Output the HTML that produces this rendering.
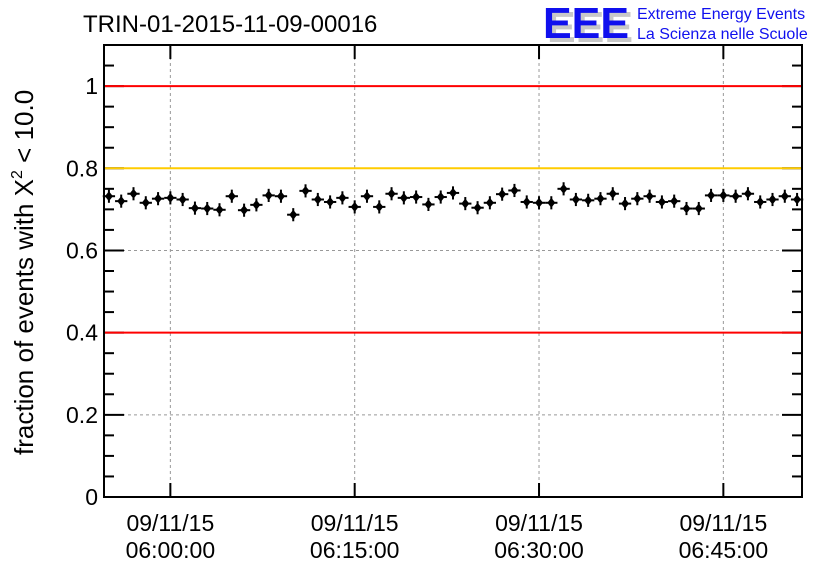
<!DOCTYPE html>
<html><head><meta charset="utf-8"><style>
body{margin:0;background:#fff;width:836px;height:572px;overflow:hidden;font-family:"Liberation Sans",sans-serif}
svg{display:block}
</style></head><body>
<svg id="chart" width="836" height="572" xmlns="http://www.w3.org/2000/svg" font-family="Liberation Sans, sans-serif">
<text x="83" y="32" font-size="24">TRIN-01-2015-11-09-00016</text>
<g>
<text x="547" y="42" font-size="44" font-weight="bold" fill="#c8c8c8" textLength="86" lengthAdjust="spacingAndGlyphs">EEE</text>
<text x="543" y="38" font-size="44" font-weight="bold" fill="#1010ee" textLength="86" lengthAdjust="spacingAndGlyphs">EEE</text>
<text x="637" y="19" font-size="16" fill="#1010ee">Extreme Energy Events</text>
<text x="637" y="39" font-size="16" fill="#1010ee">La Scienza nelle Scuole</text>
</g>
<g id="grid"></g>
<g id="points"></g>
<g id="axes"></g>
<g id="lines"></g>
<text transform="translate(33,455) rotate(-90)" font-size="26">fraction of events with Χ<tspan dy="-11" font-size="16">2</tspan><tspan dy="11"> &lt; 10.0</tspan></text>
</svg>
<script>
const values=[0.732,0.720,0.738,0.716,0.726,0.728,0.724,0.703,0.702,0.699,0.732,0.698,0.711,0.734,0.732,0.687,0.745,0.724,0.718,0.728,0.706,0.732,0.706,0.738,0.728,0.730,0.712,0.730,0.740,
0.714,0.704,0.716,0.737,0.746,0.718,0.716,0.716,0.750,0.724,0.722,0.726,0.738,0.714,0.726,0.732,0.718,0.720,0.702,0.702,0.734,0.734,0.732,0.738,0.718,0.724,0.732,0.724];
const startMinute=-5; // minutes relative to 06:00
const xTickMinutes=[0,15,30,45];
const xTickLabels=["06:00:00","06:15:00","06:30:00","06:45:00"];
const yTicks=[0,0.2,0.4,0.6,0.8,1];
const yTickLabels=["0","0.2","0.4","0.6","0.8","1"];
const hLines=[{v:1,c:"#ff0000"},{v:0.8,c:"#ffcc00"},{v:0.4,c:"#ff0000"}];
const L=104,R=802,T=45,B=497,xMin=-5.4,xMax=51.4,yMin=0,yMax=1.1;
const X=m=>L+(m-xMin)/(xMax-xMin)*(R-L);
const Y=v=>B-(v-yMin)/(yMax-yMin)*(B-T);
const NS="http://www.w3.org/2000/svg";
function mk(tag,attrs,parent){const e=document.createElementNS(NS,tag);for(const k in attrs)e.setAttribute(k,attrs[k]);parent.appendChild(e);return e;}
const grid=document.getElementById('grid'),lines=document.getElementById('lines'),pts=document.getElementById('points'),axes=document.getElementById('axes');
xTickMinutes.forEach(m=>{const l=mk('line',{x1:X(m),x2:X(m),y1:T,y2:B,stroke:'#999','stroke-dasharray':'3,3'},grid);

});
yTicks.forEach(v=>{if(v===0)return;const l=mk('line',{x1:L,x2:R,y1:Y(v),y2:Y(v),stroke:'#999','stroke-dasharray':'3,3'},grid);

});
hLines.forEach(h=>{const l=mk('line',{x1:L+1,x2:R-1,y1:Y(h.v),y2:Y(h.v),stroke:h.c,'stroke-width':2},lines);

});
values.forEach((v,i)=>{const m=startMinute+i,cx=X(m),cy=Y(v);
const g=mk('g',{},pts);


mk('line',{x1:X(m-0.5),x2:X(m+0.5),y1:cy,y2:cy,stroke:'#000','stroke-width':2},g);
mk('line',{x1:cx,x2:cx,y1:Y(v+0.016),y2:Y(v-0.016),stroke:'#000','stroke-width':2},g);
mk('path',{d:`M${cx},${cy-5}L${cx+4},${cy}L${cx},${cy+5}L${cx-4},${cy}Z`,fill:'#000'},g);});
mk('rect',{x:L,y:T,width:R-L,height:B-T,fill:'none',stroke:'#000','stroke-width':2},axes);
for(let v=0;v<=1.1001;v+=0.05){const major=Math.abs(v/0.2-Math.round(v/0.2))<1e-6;const len=major?20:10;
mk('line',{x1:L,x2:L+len,y1:Y(v),y2:Y(v),stroke:'#000','stroke-width':2},axes);
mk('line',{x1:R-len,x2:R,y1:Y(v),y2:Y(v),stroke:'#000','stroke-width':2},axes);}
yTicks.forEach((v,i)=>{const t=mk('text',{x:L-6,y:Y(v)+8,'text-anchor':'end','font-size':23},axes);t.textContent=yTickLabels[i];

});
xTickMinutes.forEach((m,i)=>{const x=X(m);
mk('line',{x1:x,x2:x,y1:B,y2:B-14,stroke:'#000','stroke-width':2},axes);
mk('line',{x1:x,x2:x,y1:T,y2:T+14,stroke:'#000','stroke-width':2},axes);
const t1=mk('text',{x:x,y:531,'text-anchor':'middle','font-size':23},axes);t1.textContent="09/11/15";


const t2=mk('text',{x:x,y:558,'text-anchor':'middle','font-size':23},axes);t2.textContent=xTickLabels[i];

});
</script>
</body></html>
